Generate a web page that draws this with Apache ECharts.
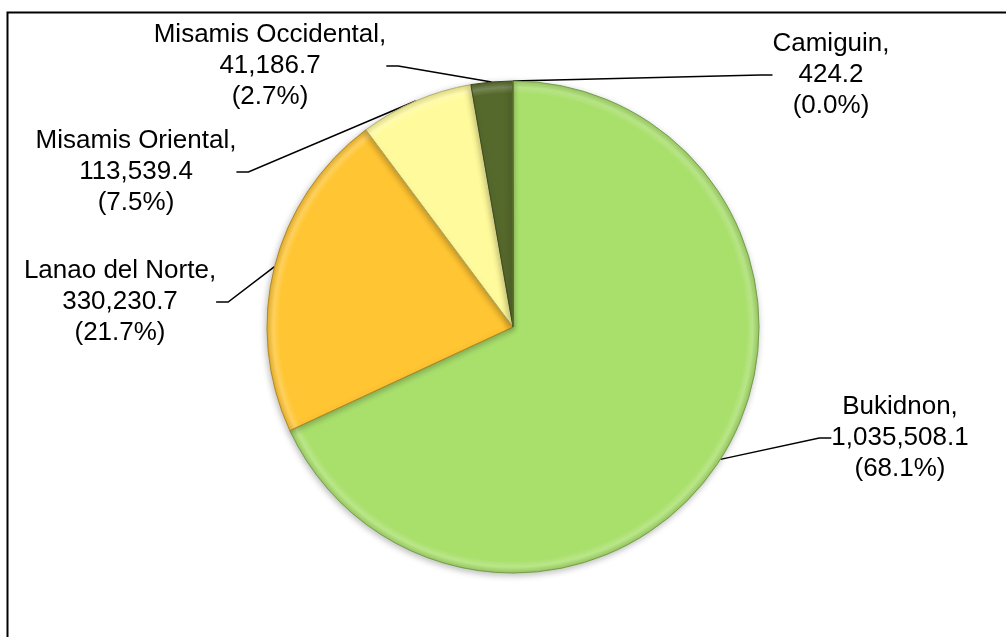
<!DOCTYPE html>
<html>
<head>
<meta charset="utf-8">
<script src="https://cdn.jsdelivr.net/npm/echarts@6/dist/echarts.min.js"></script>
<style>
html,body{margin:0;padding:0;background:#fff;}
#chart{width:1006px;height:637px;}
</style>
</head>
<body>
<div id="chart"></div>
<script>
const categories = ['Bukidnon', 'Lanao del Norte', 'Misamis Oriental', 'Misamis Occidental', 'Camiguin'];
const values = [1035508.1, 330230.7, 113539.4, 41186.7, 424.2];

// styling (not data)
const colors = ['#A9E06C', '#FFC533', '#FFFB9C', '#56692C', '#7E9A3C'];
const labelPos = [[900, 438], [120, 302], [136, 172], [270, 66], [831, 75]];

const CX = 513, CY = 327, R = 246;
const total = values.reduce((a, b) => a + b, 0);

function shade(hex, f) {
  const n = parseInt(hex.slice(1), 16);
  let r = (n >> 16) & 255, g = (n >> 8) & 255, b = n & 255;
  const m = c => Math.max(0, Math.min(255, Math.round(f >= 0 ? c + (255 - c) * f : c * (1 + f))));
  return 'rgb(' + m(r) + ',' + m(g) + ',' + m(b) + ')';
}

const chart = echarts.init(document.getElementById('chart'), null, {renderer: 'canvas'});

const data = categories.map((name, i) => ({
  name: name,
  value: values[i],
  itemStyle: {
    color: new echarts.graphic.RadialGradient(CX, CY, R, [
      {offset: 0, color: colors[i]},
      {offset: 0.95, color: colors[i]},
      {offset: 0.975, color: shade(colors[i], 0.2)},
      {offset: 1, color: shade(colors[i], -0.1)}
    ], true),
    borderColor: shade(colors[i], -0.3),
    borderWidth: 1
  }
}));

chart.setOption({
  animation: false,
  backgroundColor: '#ffffff',
  graphic: [{
    type: 'rect',
    silent: true,
    z: 100,
    shape: {x: 7.5, y: 12.5, width: 1100, height: 700},
    style: {fill: 'none', stroke: '#000', lineWidth: 2}
  }],
  series: [{
    type: 'pie',
    center: [CX, CY],
    radius: R,
    startAngle: 90,
    clockwise: true,
    avoidLabelOverlap: false,
    data: data,
    itemStyle: {
      shadowBlur: 6,
      shadowColor: 'rgba(0,0,0,0.25)',
      shadowOffsetX: -1,
      shadowOffsetY: 2
    },
    label: {
      show: true,
      position: 'outside',
      color: '#000',
      fontFamily: 'Liberation Sans, Arial, sans-serif',
      fontSize: 26,
      lineHeight: 31,
      align: 'center',
      formatter: function (p) {
        const v = p.value.toLocaleString('en-US', {minimumFractionDigits: 1, maximumFractionDigits: 1});
        const pct = (p.value / total * 100).toFixed(1);
        return p.name + ',\n' + v + '\n(' + pct + '%)';
      }
    },
    labelLine: {
      show: true,
      length: 20,
      length2: 12,
      smooth: false,
      lineStyle: {color: '#000', width: 1.5}
    },
    labelLayout: function (params) {
      const pos = labelPos[params.dataIndex];
      return {
        x: pos[0],
        y: pos[1],
        align: 'center',
        verticalAlign: 'middle',
        hideOverlap: false,
        moveOverlap: null
      };
    }
  }]
});
</script>
</body>
</html>
